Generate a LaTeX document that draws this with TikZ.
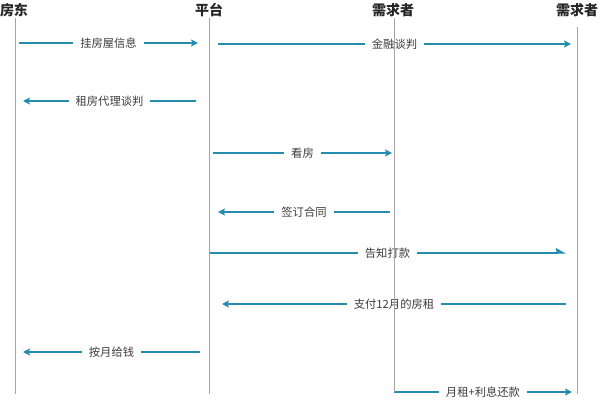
\documentclass[tikz,border=0pt]{standalone}
\usepackage{fontspec}
\newfontfamily\cjk{Noto Sans CJK SC}
\usetikzlibrary{arrows.meta}

\definecolor{msgblue}{RGB}{35,140,175}
\definecolor{lifegray}{RGB}{165,165,165}
\definecolor{txtgray}{RGB}{60,60,60}

\tikzset{
  role/.style = {font=\cjk\bfseries\fontsize{14}{14}\selectfont, text=black!85, inner sep=0pt},
  life/.style = {draw=lifegray, line width=0.9pt},
  msg/.style = {draw=msgblue, line width=1.3pt, -{Stealth[length=7pt, width=7pt, inset=1.5pt]}},
  half/.style = {draw=msgblue, line width=1.3pt, -{Stealth[length=9pt, width=10pt, inset=1pt, harpoon]}},
  lbl/.style = {fill=white, font=\cjk\fontsize{11.3}{12}\selectfont, text=txtgray, inner xsep=7pt, inner ysep=1pt}
}

\begin{document}
\begin{tikzpicture}[x=1pt, y=-1pt]
\useasboundingbox[fill=white] (0,0) rectangle (600,404);

\node[role] (landlord) at (14,10) {房东};
\node[role] (platform) at (209,10) {平台};
\node[role] (tenant) at (393,10) {需求者};
\node[role] (funder) at (577,10) {需求者};

\coordinate (l1) at (15,18);   \coordinate (l1b) at (15,394);
\coordinate (l2) at (209,18);  \coordinate (l2b) at (209,394);
\coordinate (l3) at (394,18);  \coordinate (l3b) at (394,392);
\coordinate (l4) at (577,27);  \coordinate (l4b) at (577,394);

% messages
\coordinate (m1s) at (19,43);   \coordinate (m1e) at (198,43);
\coordinate (m2s) at (218,44);  \coordinate (m2e) at (571,44);
\coordinate (m3s) at (196,101); \coordinate (m3e) at (23,101);
\coordinate (m4s) at (213,153); \coordinate (m4e) at (392,153);
\coordinate (m5s) at (390,212); \coordinate (m5e) at (218,212);
\coordinate (m6s) at (209,253); \coordinate (m6e) at (566,253);
\coordinate (m7s) at (566,304); \coordinate (m7e) at (222,304);
\coordinate (m8s) at (200,352); \coordinate (m8e) at (23,352);
\coordinate (m9e) at (572,392);

\draw[msg] (m1s) -- node[lbl] (t1) {挂房屋信息} (m1e);
\draw[msg] (m2s) -- node[lbl] (t2) {金融谈判} (m2e);
\draw[msg] (m3s) -- node[lbl] (t3) {租房代理谈判} (m3e);
\draw[msg] (m4s) -- node[lbl] (t4) {看房} (m4e);
\draw[msg] (m5s) -- node[lbl] (t5) {签订合同} (m5e);
\draw[half] (m6s) -- node[lbl] (t6) {告知打款} (m6e);
\draw[msg] (m7s) -- node[lbl] (t7) {支付12月的房租} (m7e);
\draw[msg] (m8s) -- node[lbl] (t8) {按月给钱} (m8e);
\draw[msg] (l3b) -- node[lbl] (t9) {月租+利息还款} (m9e);

% lifelines
\draw[life] (l1) -- (l1b);
\draw[life] (l2) -- (l2b);
\draw[life] (l3) -- (l3b);
\draw[life] (l4) -- (l4b);
\end{tikzpicture}
\end{document}
